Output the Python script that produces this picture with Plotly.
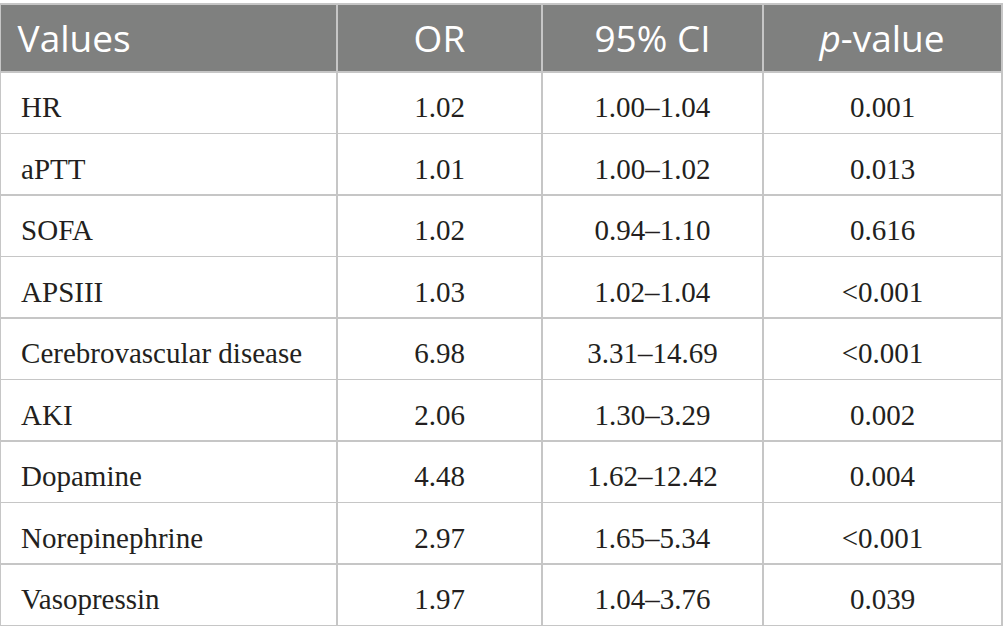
import plotly.graph_objects as go

headers = ["Values", "OR", "95% CI", "<i>p</i>-value"]
variables = ["HR", "aPTT", "SOFA", "APSIII", "Cerebrovascular disease",
             "AKI", "Dopamine", "Norepinephrine", "Vasopressin"]
odds_ratio = ["1.02", "1.01", "1.02", "1.03", "6.98", "2.06", "4.48", "2.97", "1.97"]
ci_95 = ["1.00–1.04", "1.00–1.02", "0.94–1.10", "1.02–1.04", "3.31–14.69",
         "1.30–3.29", "1.62–12.42", "1.65–5.34", "1.04–3.76"]
p_values = ["0.001", "0.013", "0.616", "&lt;0.001", "&lt;0.001", "0.002", "0.004", "&lt;0.001", "0.039"]

col_w = [337, 205, 221, 239]
aligns = ["left", "center", "center", "center"]
line_c = "#c6c6c6"
clear = "rgba(0,0,0,0)"


def wrap(s):
    # every text through the same markup path so they sit alike
    return "<span>" + s + "</span>"


header_text = [wrap("\u00a0" + headers[0])] + [wrap(h) for h in headers[1:]]
cols = [["\u00a0\u2009" + v for v in variables], odds_ratio, ci_95, p_values]
cell_text = [[wrap(v) for v in c] for c in cols]

# grid, fills and header text
fig = go.Figure(go.Table(
    columnwidth=col_w,
    header=dict(values=header_text, fill_color="#7f807f",
                line=dict(color=line_c, width=1.5),
                font=dict(family="Open Sans", size=37, color="white"),
                align=aligns, height=68),
    cells=dict(values=[[""] * len(variables)] * 4, fill_color="white",
               line=dict(color=line_c, width=1.5), height=61.5),
))

# body text layer, nudged down to sit mid-cell
shift = 11 / 637
fig.add_trace(go.Table(
    columnwidth=col_w,
    domain=dict(x=[0, 1], y=[0, 1 - shift]),
    header=dict(values=[""] * 4, fill_color=clear,
                line=dict(color=clear, width=0), height=68),
    cells=dict(values=cell_text, fill_color=clear,
               line=dict(color=clear, width=0),
               font=dict(family="Liberation Serif", size=29, color="#231f20"),
               align=aligns, height=61.5),
))

fig.update_layout(
    width=1005, height=641,
    margin=dict(l=0, r=3, t=4, b=0),
    paper_bgcolor="white",
)

fig.write_html("out.html", config={"displayModeBar": False},
               post_script="document.body.style.margin='0';")
